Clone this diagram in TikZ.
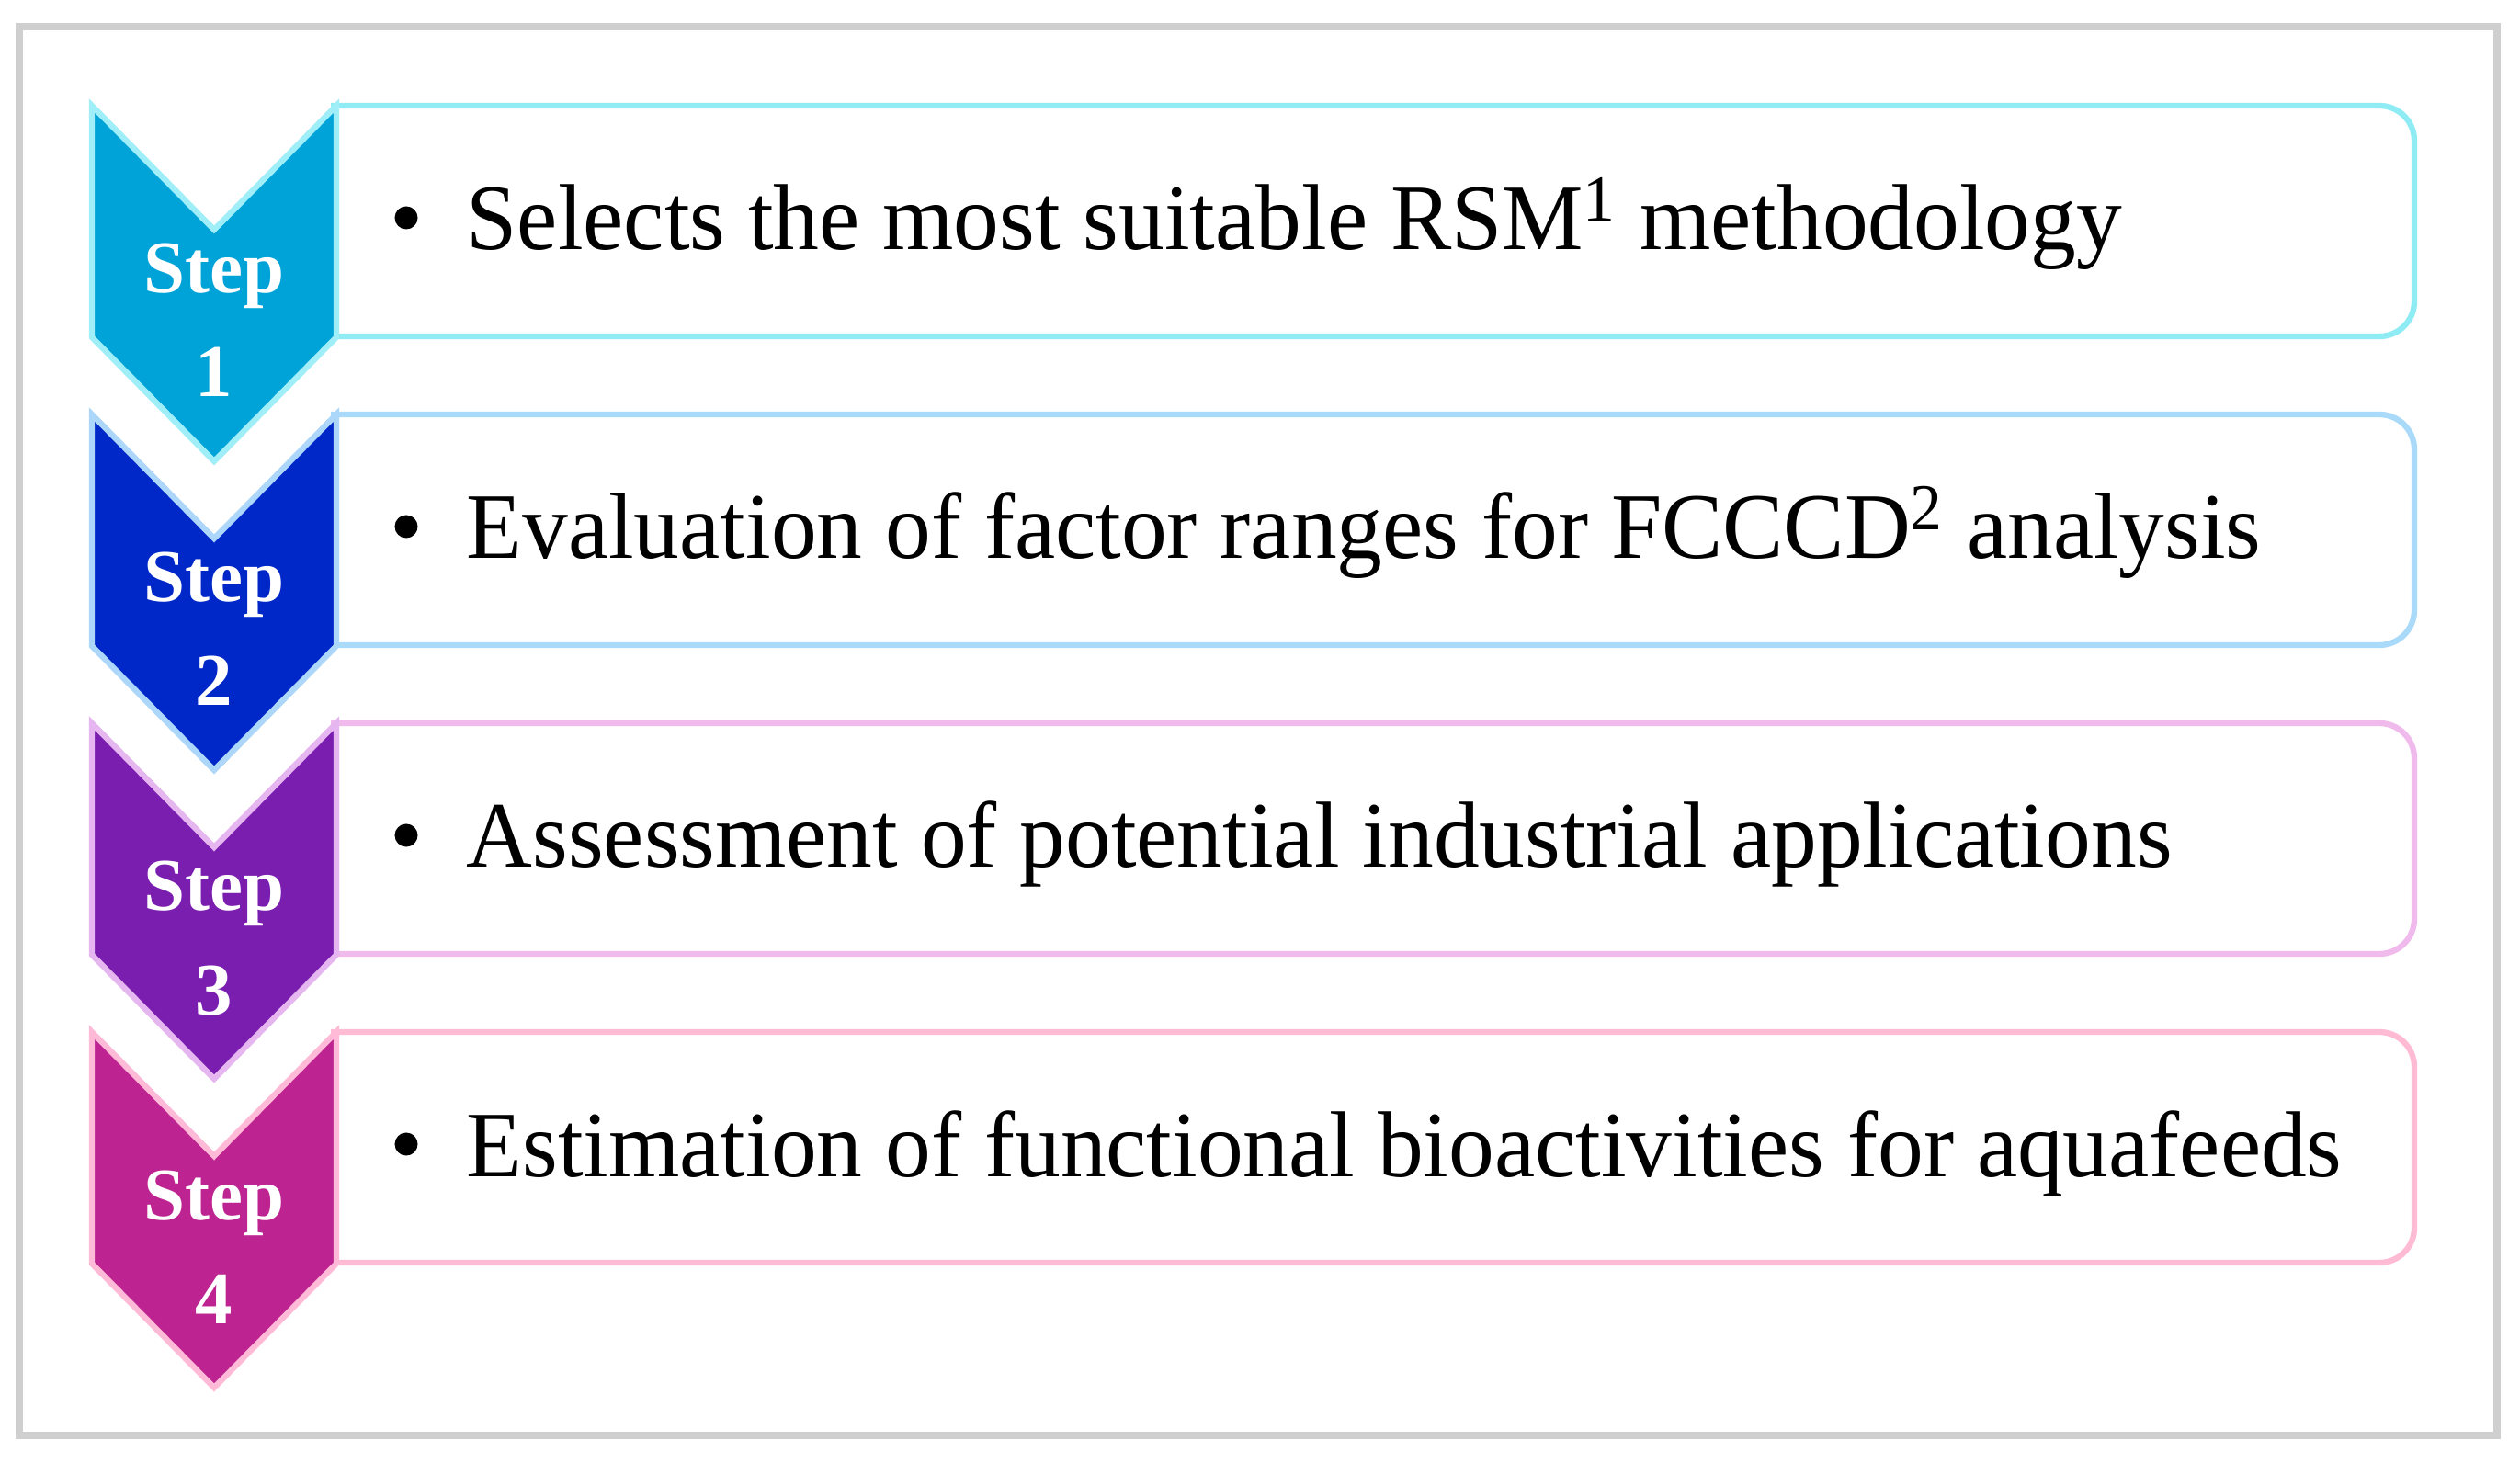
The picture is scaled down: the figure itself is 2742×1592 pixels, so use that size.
\documentclass[tikz,border=0pt]{standalone}
\usepackage{graphicx}
\usepackage{fontspec}
\setmainfont{Liberation Serif}
\definecolor{fillA}{RGB}{0,163,215}
\definecolor{edgeA}{RGB}{160,238,248}
\definecolor{boxA}{RGB}{144,236,244}
\definecolor{fillB}{RGB}{0,40,200}
\definecolor{edgeB}{RGB}{172,214,250}
\definecolor{boxB}{RGB}{170,218,250}
\definecolor{fillC}{RGB}{122,30,176}
\definecolor{edgeC}{RGB}{230,182,240}
\definecolor{boxC}{RGB}{240,186,236}
\definecolor{fillD}{RGB}{189,36,145}
\definecolor{edgeD}{RGB}{255,186,216}
\definecolor{boxD}{RGB}{255,186,212}
\definecolor{framegray}{RGB}{207,207,207}
\tikzset{
  outerframe/.style={draw=framegray, line width=2.3pt},
  stepbox/.style={line width=1.8pt, rounded corners=0.38cm},
  chevron/.style={line width=1.8pt, line join=miter},
  steplbl/.style={anchor=base, inner sep=0pt, text=white, font=\fontsize{23}{28}\selectfont\bfseries},
  bulletdot/.style={circle, fill=black, inner sep=0pt, minimum size=0.25cm},
  maintext/.style={anchor=base west, inner sep=0pt, font=\fontsize{29}{35}\selectfont}
}
\begin{document}
\begin{tikzpicture}[x=0.01cm,y=-0.01cm]
\useasboundingbox (0,0) rectangle (2742,1592);
\fill[white] (0,0) rectangle (2742,1592);
\draw[outerframe] (21,29) rectangle (2717,1562);
\foreach \i/\fc/\oc/\bc/\txt in {
  1/fillA/edgeA/boxA/{Selects the most suitable RSM\textsuperscript{1} methodology},
  2/fillB/edgeB/boxB/{Evaluation of factor ranges for FCCCD\textsuperscript{2} analysis},
  3/fillC/edgeC/boxC/{Assessment of potential industrial applications},
  4/fillD/edgeD/boxD/{Estimation of functional bioactivities for aquafeeds}}{
  \pgfmathsetmacro\ty{115+336*(\i-1)}
  \draw[stepbox, draw=\bc] (360,\ty) -- (2627,\ty) -- (2627,\ty+251) -- (360,\ty+251);
  \filldraw[chevron, fill=\fc, draw=\oc] (100,\ty) -- (233,\ty+135) -- (366,\ty) -- (366,\ty+252) -- (233,\ty+387) -- (100,\ty+252) -- cycle;
  \node[steplbl] (s\i) at (233,\ty+204) {Step};
  \node[steplbl] (n\i) at (233,\ty+317) {\i};
  \node[bulletdot] (d\i) at (442,\ty+122) {};
  \node[maintext] (t\i) at (507,\ty+157) {\scalebox{0.975}[1]{\txt}};
}
\end{tikzpicture}
\end{document}
